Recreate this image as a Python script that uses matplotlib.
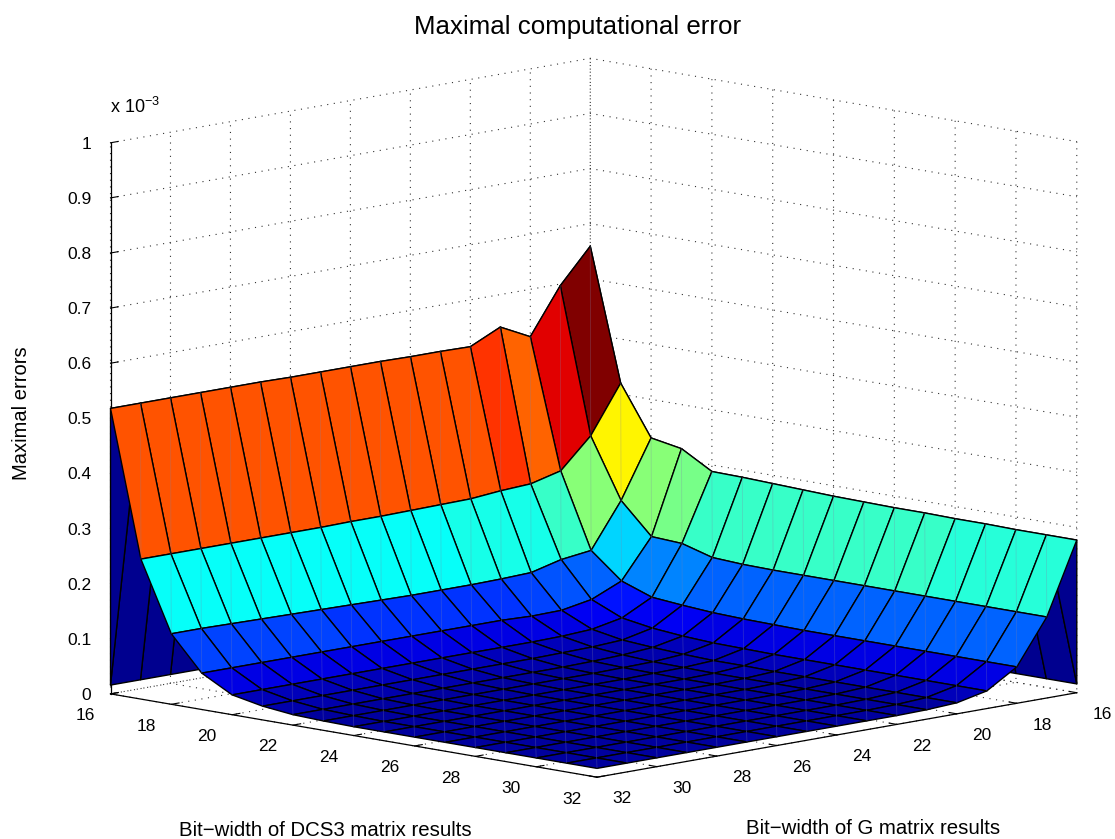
import numpy as np
import matplotlib
matplotlib.use("Agg")
import matplotlib.pyplot as plt
from matplotlib.colors import LinearSegmentedColormap

plt.rcParams['font.family'] = ['Liberation Sans', 'DejaVu Sans']
plt.rcParams['mathtext.default'] = 'regular'
plt.rcParams['grid.linestyle'] = (0, (1, 5))
plt.rcParams['grid.color'] = '#333333'
plt.rcParams['grid.linewidth'] = 0.8

dcs_bits = np.arange(16, 33)
g_bits = np.arange(16, 33)

# errors in units of 1e-3, rows are DCS3 16..32, columns are G 16..32
err_16 = [.659, .597, .514, .541, .515, .516, .516, .517, .517, .517, .517, .518, .518, .518, .518, .518, .518]
err_17 = [.420, .334, .280, .266, .263, .258, .257, .256, .255, .255, .254, .254, .254, .254, .254, .254, .254]
err_18 = [.330, .226, .145, .138, .124, .122, .121, .121, .121, .122, .123, .124, .125, .126, .127, .128, .128]
err_19 = [.320, .170, .099, .075, .065, .064, .066, .066, .066, .066, .066, .066, .066, .066, .066, .066, .066]
err_20 = [.288, .167, .079, .051, .040, .037, .036, .036, .036, .036, .036, .036, .036, .036, .036, .036, .036]
err_21 = [.287, .151, .074, .042, .030, .027, .026, .025, .025, .025, .025, .025, .025, .025, .025, .025, .025]
err_22 = [.285, .148, .070, .037, .026, .022, .020, .019, .019, .019, .019, .019, .019, .019, .019, .019, .019]
err_23 = [.283, .147, .068, .034, .023, .019, .018, .017, .017, .017, .017, .017, .017, .017, .017, .017, .017]
err_24 = [.281, .147, .067, .033, .021, .018, .017, .016, .016, .016, .016, .016, .016, .016, .016, .016, .016]
err_25 = [.280, .147, .066, .032, .021, .017, .016, .016, .016, .016, .016, .016, .016, .016, .016, .016, .016]
err_26 = [.279, .147, .066, .032, .020, .017, .016, .016, .016, .016, .016, .016, .016, .016, .016, .016, .016]
err_27 = [.279, .147, .066, .032, .020, .017, .016, .016, .016, .016, .016, .016, .016, .016, .016, .016, .016]
err_28 = [.278, .147, .066, .032, .020, .017, .016, .016, .016, .016, .016, .016, .016, .016, .016, .016, .016]
err_29 = [.278, .147, .066, .032, .020, .017, .016, .016, .016, .016, .016, .016, .016, .016, .016, .016, .016]
err_30 = [.277, .147, .066, .032, .020, .017, .016, .016, .016, .016, .016, .016, .016, .016, .016, .016, .016]
err_31 = [.277, .147, .066, .032, .020, .017, .016, .016, .016, .016, .016, .016, .016, .016, .016, .016, .016]
err_32 = [.277, .147, .066, .032, .020, .017, .016, .016, .016, .016, .016, .016, .016, .016, .016, .016, .016]

Z = np.array([err_16, err_17, err_18, err_19, err_20, err_21, err_22, err_23, err_24,
              err_25, err_26, err_27, err_28, err_29, err_30, err_31, err_32])

wall_bottom = 0.016
xy_ticks = [16, 18, 20, 22, 24, 26, 28, 30, 32]
z_ticks = [0, 0.1, 0.2, 0.3, 0.4, 0.5, 0.6, 0.7, 0.8, 0.9, 1]
z_labels = ['0', '0.1', '0.2', '0.3', '0.4', '0.5', '0.6', '0.7', '0.8', '0.9', '1']

fig = plt.figure(figsize=(11.15, 8.39), dpi=100)
ax = fig.add_axes([37 / 1115, -135.4 / 839, 1084 / 1115, 1084 / 839], projection='3d',
                  computed_zorder=False)
ax.set_proj_type('ortho')
ax.view_init(elev=10, azim=44.6)
ax.set_box_aspect((1, 1, 0.819))
ax.patch.set_alpha(0)

# matlab's jet, a bit different from matplotlib's
jet = LinearSegmentedColormap.from_list('matlab_jet', [
    (0, (0, 0, .5625)), (.125, (0, 0, 1)), (.375, (0, 1, 1)),
    (.625, (1, 1, 0)), (.875, (1, 0, 0)), (1, (.5, 0, 0))], N=64)
norm = plt.Normalize(0, Z.max())
G, D = np.meshgrid(g_bits, dcs_bits)

# skirts behind the surface, their foot is shifted by one grid step
g_rev = g_bits[::-1]
wall_x = np.array([g_rev, np.r_[g_rev[0], g_rev[:-1]]], dtype=float)
wall_y = np.full_like(wall_x, dcs_bits[0])
wall_z = np.array([Z[0, ::-1], np.full(17, wall_bottom)])
wall1 = ax.plot_surface(wall_x, wall_y, wall_z, color=jet(0), shade=False, zorder=1,
                        rstride=1, cstride=1, edgecolor='k', linewidth=1.0)

d_rev = dcs_bits[::-1]
wall_y2 = np.array([d_rev, np.r_[d_rev[0], d_rev[:-1]]], dtype=float)
wall_x2 = np.full_like(wall_y2, g_bits[0])
wall_z2 = np.array([Z[::-1, 0], np.full(17, wall_bottom)])
wall2 = ax.plot_surface(wall_x2, wall_y2, wall_z2, color=jet(0), shade=False, zorder=1,
                        rstride=1, cstride=1, edgecolor='k', linewidth=1.0)

surf = ax.plot_surface(G, D, Z, facecolors=jet(norm(Z)), shade=False, zorder=3,
                       rstride=1, cstride=1)
surf.set_edgecolor('k')
surf.set_linewidth(1.0)

# faint seams along the face diagonals, the reference renderer left these
for i in range(16):
    for j in range(16):
        ax.plot(g_bits[j:j + 2], [dcs_bits[i], dcs_bits[i + 1]], [Z[i, j], Z[i + 1, j + 1]],
                color='#8080a8', alpha=0.3, lw=0.6, zorder=4)

ax.set_xlim(16, 32, view_margin=0)
ax.set_ylim(16, 32, view_margin=0)
ax.set_zlim(0, 1, view_margin=0)
ax.set_xticks(xy_ticks)
ax.set_yticks(xy_ticks)
ax.set_zticks(z_ticks)
ax.set_zticklabels(z_labels)
ax.tick_params(labelsize=12.5, pad=5)
ax.tick_params(axis='z', pad=0)

for axis in (ax.xaxis, ax.yaxis, ax.zaxis):
    axis.set_pane_color((1, 1, 1, 0))
    axis.pane.set_edgecolor('none')
    axis.line.set_color('k')
    axis.line.set_linewidth(0.9)
    axis._axinfo['tick']['inward_factor'] = 0.0
    axis._axinfo['tick']['outward_factor'] = 0.2
    axis._axinfo['tick']['linewidth'] = {True: 0.8, False: 0.5}
ax.zaxis.set_ticks_position('lower')
plt.setp(ax.get_zticklabels(), va='center_baseline', ha='right')
plt.setp(ax.get_yticklabels(), va='center_baseline', ha='right')
plt.setp(ax.get_xticklabels(), va='center_baseline', ha='left')

fig.text(578 / 1115, 1 - 27 / 839, 'Maximal computational error', ha='center', va='center', fontsize=18.6)
fig.text(325 / 1115, 1 - 831 / 839, 'Bit\u2212width of DCS3 matrix results', ha='center', va='center', fontsize=14.7)
fig.text(873 / 1115, 1 - 829 / 839, 'Bit\u2212width of G matrix results', ha='center', va='center', fontsize=14.7)
fig.text(22 / 1115, 1 - 413 / 839, 'Maximal errors', ha='center', va='center', rotation=90, fontsize=14.5)
fig.text(110 / 1115, 1 - 107 / 839, 'x 10$^{-3}$', ha='left', va='center', fontsize=13)

fig.savefig('out.png', dpi=100)
